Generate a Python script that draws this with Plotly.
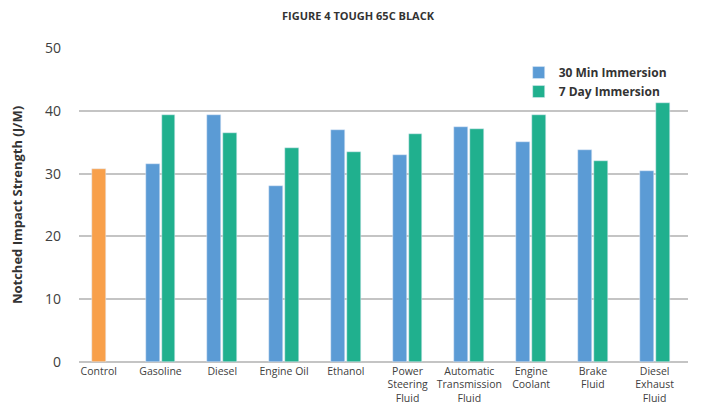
import plotly.graph_objects as go

categories = ["Control", "Gasoline", "Diesel", "Engine Oil", "Ethanol",
              "Power<br>Steering<br>Fluid", "Automatic<br>Transmission<br>Fluid",
              "Engine<br>Coolant", "Brake<br>Fluid", "Diesel<br>Exhaust<br>Fluid"]
control_value = [30.7]
min30_values = [31.5, 39.3, 28.1, 36.9, 33.0, 37.4, 35.0, 33.8, 30.4]
day7_values = [39.3, 36.4, 34.0, 33.4, 36.3, 37.1, 39.3, 32.0, 41.2]
y_ticks = [0, 10, 20, 30, 40, 50]

fig = go.Figure()
fig.add_trace(go.Bar(x=categories[:1], y=control_value, name="Control",
                     marker_color="#F8A04B", width=0.22, offset=-0.11,
                     showlegend=False))
fig.add_trace(go.Bar(x=categories[1:], y=min30_values, name="<b>30 Min Immersion</b>",
                     marker_color="#5B9BD5", width=0.225, offset=-0.241))
fig.add_trace(go.Bar(x=categories[1:], y=day7_values, name="<b>7 Day Immersion</b>",
                     marker_color="#20B08E", width=0.225, offset=0.016))

fig.update_layout(
    width=710, height=405,
    margin=dict(l=71, r=30, t=40, b=51, autoexpand=False),
    barmode="overlay",
    paper_bgcolor="white", plot_bgcolor="white",
    font=dict(family="Open Sans", color="#404040"),
    title=dict(text="<b>FIGURE 4 TOUGH 65C BLACK</b>", x=0.493, xanchor="center",
               y=0.98, yanchor="middle", font=dict(size=11, color="#333333")),
    legend=dict(x=0.722, y=0.968, xanchor="left", yanchor="top",
                font=dict(size=12, color="#333333", family="Open Sans"),
                bgcolor="rgba(0,0,0,0)", itemwidth=30, tracegroupgap=0),
    bargap=0,
)
fig.update_xaxes(range=[-0.32, 9.54], showgrid=False, showline=False, ticks="",
                 automargin=False, ticklabelstandoff=1,
                 tickfont=dict(size=10.5, color="#404040"), tickangle=0)
fig.update_yaxes(range=[0, 50], tickvals=y_ticks, showgrid=True,
                 gridcolor="#C4C4C4", gridwidth=2, griddash="solid",
                 layer="below traces",
                 zeroline=True, zerolinecolor="#C4C4C4", zerolinewidth=2,
                 showline=False, ticks="", tickfont=dict(size=14, color="#404040"),
                 ticklabelstandoff=17, automargin=False,
                 title=dict(text="<b>Notched Impact Strength (J/M)</b>",
                            font=dict(size=13, color="#333333"), standoff=22))

fig.write_html("out.html")
